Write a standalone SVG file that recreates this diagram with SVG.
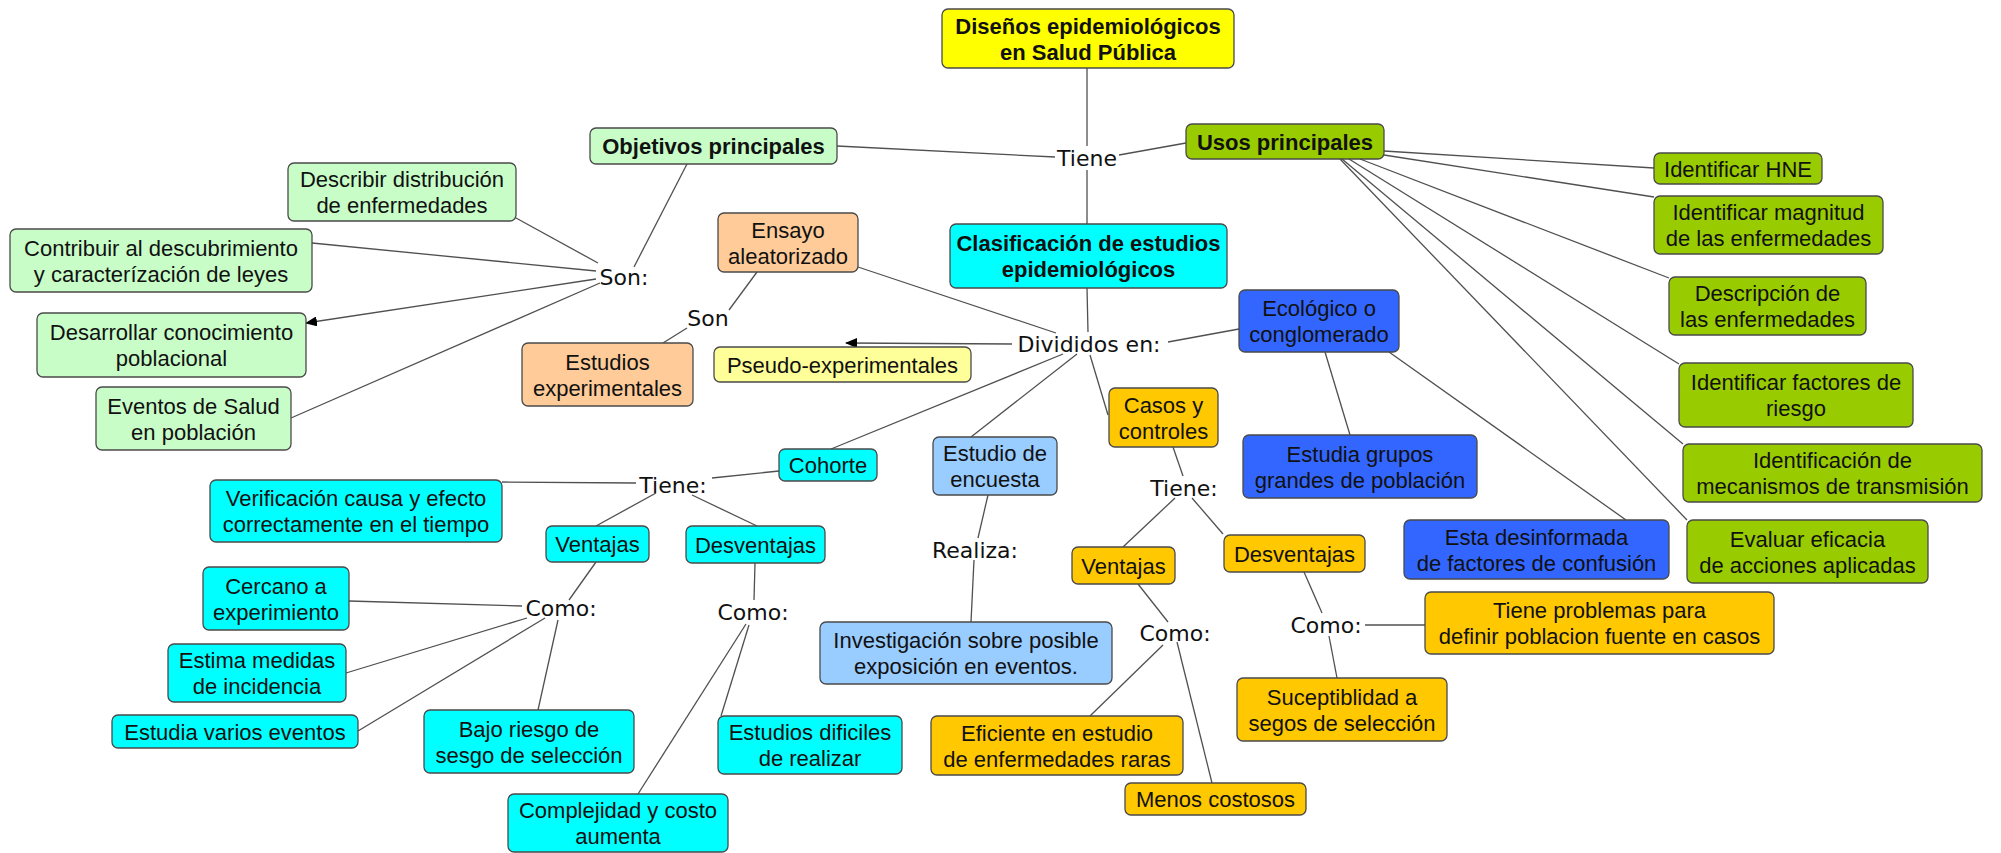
<svg xmlns="http://www.w3.org/2000/svg" width="2001" height="853" viewBox="0 0 2001 853">
<defs>
<style>
rect{stroke:#4a4a4a;stroke-width:1.3;rx:6;ry:6}
.yel{fill:#FFFF00}.lg{fill:#C8FDC8}.yg{fill:#99CC00}.cy{fill:#00FFFF}.pe{fill:#FFCC99}
.ly{fill:#FFFF99}.bl{fill:#3366FF}.lb{fill:#99CCFF}.or{fill:#FFC800}
text{font-family:"Liberation Sans",Arial,sans-serif;font-size:22px;text-anchor:middle;fill:#111}
text.b{font-weight:bold}
text.l{font-family:"DejaVu Sans",Verdana,sans-serif;font-size:22px}
#connectors line{stroke:#505050;stroke-width:1.3;fill:none}
</style>
<marker id="arr" markerWidth="12" markerHeight="10" refX="11" refY="5" orient="auto" markerUnits="userSpaceOnUse">
<path d="M0,0 L12,5 L0,10 z" fill="#000"/>
</marker>
</defs>
<rect x="0" y="0" width="2001" height="853" style="fill:#fff;stroke:none"/>
<g id="connectors">
<line x1="1087" y1="68" x2="1087" y2="146"/>
<line x1="1087" y1="170" x2="1087" y2="224"/>
<line x1="837" y1="146" x2="1055" y2="157"/>
<line x1="1119" y1="155" x2="1186" y2="143"/>
<line x1="687" y1="164" x2="634" y2="267"/>
<line x1="516" y1="218" x2="598" y2="263"/>
<line x1="312" y1="243" x2="596" y2="271"/>
<line x1="596" y1="279" x2="306" y2="323" marker-end="url(#arr)"/>
<line x1="600" y1="283" x2="291" y2="418"/>
<line x1="757" y1="272" x2="729" y2="310"/>
<line x1="687" y1="328" x2="663" y2="343"/>
<line x1="858" y1="267" x2="1056" y2="333"/>
<line x1="1087" y1="288" x2="1088" y2="332"/>
<line x1="1012" y1="344" x2="846" y2="343" marker-end="url(#arr)"/>
<line x1="1168" y1="342" x2="1239" y2="329"/>
<line x1="1090" y1="355" x2="1108" y2="415"/>
<line x1="1063" y1="354" x2="831" y2="449"/>
<line x1="1077" y1="354" x2="971" y2="437"/>
<line x1="1325" y1="352" x2="1350" y2="435"/>
<line x1="1389" y1="352" x2="1626" y2="520"/>
<line x1="1384" y1="151" x2="1654" y2="168"/>
<line x1="1384" y1="155" x2="1654" y2="197"/>
<line x1="1360" y1="159" x2="1669" y2="278"/>
<line x1="1349" y1="159" x2="1679" y2="364"/>
<line x1="1342" y1="159" x2="1683" y2="444"/>
<line x1="1340" y1="159" x2="1687" y2="520"/>
<line x1="779" y1="471" x2="712" y2="478"/>
<line x1="636" y1="483" x2="502" y2="482"/>
<line x1="656" y1="493" x2="596" y2="526"/>
<line x1="692" y1="495" x2="757" y2="526"/>
<line x1="596" y1="562" x2="569" y2="600"/>
<line x1="349" y1="601" x2="522" y2="606"/>
<line x1="346" y1="673" x2="527" y2="618"/>
<line x1="358" y1="731" x2="545" y2="618"/>
<line x1="558" y1="620" x2="538" y2="710"/>
<line x1="755" y1="563" x2="754" y2="600"/>
<line x1="749" y1="625" x2="721" y2="716"/>
<line x1="746" y1="624" x2="638" y2="794"/>
<line x1="988" y1="495" x2="978" y2="538"/>
<line x1="974" y1="560" x2="971" y2="622"/>
<line x1="1173" y1="447" x2="1183" y2="476"/>
<line x1="1175" y1="498" x2="1123" y2="547"/>
<line x1="1192" y1="498" x2="1223" y2="534"/>
<line x1="1138" y1="584" x2="1168" y2="622"/>
<line x1="1163" y1="645" x2="1090" y2="716"/>
<line x1="1177" y1="642" x2="1212" y2="783"/>
<line x1="1304" y1="572" x2="1322" y2="613"/>
<line x1="1329" y1="636" x2="1337" y2="678"/>
<line x1="1365" y1="625" x2="1425" y2="625"/>
</g>
<g id="labels">
<text class="l" x="1087" y="166">Tiene</text>
<text class="l" x="624" y="285">Son:</text>
<text class="l" x="708" y="326">Son</text>
<text class="l" x="1089" y="352">Divididos en:</text>
<text class="l" x="673" y="493">Tiene:</text>
<text class="l" x="561" y="616">Como:</text>
<text class="l" x="753" y="620">Como:</text>
<text class="l" x="975" y="558">Realiza:</text>
<text class="l" x="1184" y="496">Tiene:</text>
<text class="l" x="1175" y="641">Como:</text>
<text class="l" x="1326" y="633">Como:</text>
</g>
<g id="n_disenos"><rect class="yel" x="942" y="9" width="292" height="59"/><text class="b" x="1088" y="33.5">Diseños epidemiológicos</text><text class="b" x="1088" y="59.5">en Salud Pública</text></g>
<g id="n_objetivos"><rect class="lg" x="590" y="128" width="247" height="36"/><text class="b" x="713.5" y="154">Objetivos principales</text></g>
<g id="n_usos"><rect class="yg" x="1186" y="124" width="198" height="35"/><text class="b" x="1285" y="149.5">Usos principales</text></g>
<g id="n_clasificacion"><rect class="cy" x="950" y="224" width="277" height="64"/><text class="b" x="1088.5" y="251">Clasificación de estudios</text><text class="b" x="1088.5" y="277">epidemiológicos</text></g>
<g id="n_describir"><rect class="lg" x="288" y="163" width="228" height="58"/><text x="402" y="187">Describir distribución</text><text x="402" y="213">de enfermedades</text></g>
<g id="n_contribuir"><rect class="lg" x="10" y="229" width="302" height="63"/><text x="161" y="255.5">Contribuir al descubrimiento</text><text x="161" y="281.5">y caracterízación de leyes</text></g>
<g id="n_desarrollar"><rect class="lg" x="37" y="313" width="269" height="64"/><text x="171.5" y="340">Desarrollar conocimiento</text><text x="171.5" y="366">poblacional</text></g>
<g id="n_eventos"><rect class="lg" x="96" y="387" width="195" height="63"/><text x="193.5" y="413.5">Eventos de Salud</text><text x="193.5" y="439.5">en población</text></g>
<g id="n_ensayo"><rect class="pe" x="718" y="213" width="140" height="59"/><text x="788" y="237.5">Ensayo</text><text x="788" y="263.5">aleatorizado</text></g>
<g id="n_experimentales"><rect class="pe" x="522" y="343" width="171" height="63"/><text x="607.5" y="369.5">Estudios</text><text x="607.5" y="395.5">experimentales</text></g>
<g id="n_pseudo"><rect class="ly" x="714" y="347" width="257" height="35"/><text x="842.5" y="372.5">Pseudo-experimentales</text></g>
<g id="n_ecologico"><rect class="bl" x="1239" y="290" width="160" height="62"/><text x="1319" y="316">Ecológico o</text><text x="1319" y="342">conglomerado</text></g>
<g id="n_estudia_grupos"><rect class="bl" x="1243" y="435" width="234" height="63"/><text x="1360" y="461.5">Estudia grupos</text><text x="1360" y="487.5">grandes de población</text></g>
<g id="n_desinformada"><rect class="bl" x="1404" y="520" width="265" height="59"/><text x="1536.5" y="544.5">Esta desinformada</text><text x="1536.5" y="570.5">de factores de confusión</text></g>
<g id="n_casos"><rect class="or" x="1109" y="388" width="109" height="59"/><text x="1163.5" y="412.5">Casos y</text><text x="1163.5" y="438.5">controles</text></g>
<g id="n_ventajas_casos"><rect class="or" x="1072" y="547" width="103" height="37"/><text x="1123.5" y="573.5">Ventajas</text></g>
<g id="n_desventajas_casos"><rect class="or" x="1224" y="535" width="141" height="37"/><text x="1294.5" y="561.5">Desventajas</text></g>
<g id="n_problemas"><rect class="or" x="1425" y="592" width="349" height="62"/><text x="1599.5" y="618">Tiene problemas para</text><text x="1599.5" y="644">definir poblacion fuente en casos</text></g>
<g id="n_suceptiblidad"><rect class="or" x="1237" y="678" width="210" height="63"/><text x="1342" y="704.5">Suceptiblidad a</text><text x="1342" y="730.5">segos de selección</text></g>
<g id="n_eficiente"><rect class="or" x="931" y="716" width="252" height="59"/><text x="1057" y="740.5">Eficiente en estudio</text><text x="1057" y="766.5">de enfermedades raras</text></g>
<g id="n_menos"><rect class="or" x="1125" y="783" width="181" height="32"/><text x="1215.5" y="807">Menos costosos</text></g>
<g id="n_encuesta"><rect class="lb" x="933" y="437" width="124" height="58"/><text x="995" y="461">Estudio de</text><text x="995" y="487">encuesta</text></g>
<g id="n_investigacion"><rect class="lb" x="820" y="622" width="292" height="62"/><text x="966" y="648">Investigación sobre posible</text><text x="966" y="674">exposición en eventos.</text></g>
<g id="n_cohorte"><rect class="cy" x="779" y="449" width="98" height="32"/><text x="828" y="473">Cohorte</text></g>
<g id="n_verificacion"><rect class="cy" x="210" y="480" width="292" height="62"/><text x="356" y="506">Verificación causa y efecto</text><text x="356" y="532">correctamente en el tiempo</text></g>
<g id="n_ventajas_cohorte"><rect class="cy" x="546" y="526" width="103" height="36"/><text x="597.5" y="552">Ventajas</text></g>
<g id="n_desventajas_cohorte"><rect class="cy" x="686" y="526" width="139" height="37"/><text x="755.5" y="552.5">Desventajas</text></g>
<g id="n_cercano"><rect class="cy" x="203" y="567" width="146" height="63"/><text x="276" y="593.5">Cercano a</text><text x="276" y="619.5">experimiento</text></g>
<g id="n_estima"><rect class="cy" x="168" y="644" width="178" height="58"/><text x="257" y="668">Estima medidas</text><text x="257" y="694">de incidencia</text></g>
<g id="n_estudia_varios"><rect class="cy" x="112" y="715" width="246" height="33"/><text x="235" y="739.5">Estudia varios eventos</text></g>
<g id="n_bajo"><rect class="cy" x="424" y="710" width="210" height="63"/><text x="529" y="736.5">Bajo riesgo de</text><text x="529" y="762.5">sesgo de selección</text></g>
<g id="n_complejidad"><rect class="cy" x="508" y="794" width="220" height="58"/><text x="618" y="818">Complejidad y costo</text><text x="618" y="844">aumenta</text></g>
<g id="n_dificiles"><rect class="cy" x="718" y="716" width="184" height="58"/><text x="810" y="740">Estudios dificiles</text><text x="810" y="766">de realizar</text></g>
<g id="n_hne"><rect class="yg" x="1654" y="153" width="168" height="31"/><text x="1738" y="176.5">Identificar HNE</text></g>
<g id="n_magnitud"><rect class="yg" x="1654" y="196" width="229" height="58"/><text x="1768.5" y="220">Identificar magnitud</text><text x="1768.5" y="246">de las enfermedades</text></g>
<g id="n_descripcion"><rect class="yg" x="1669" y="277" width="197" height="58"/><text x="1767.5" y="301">Descripción de</text><text x="1767.5" y="327">las enfermedades</text></g>
<g id="n_factores"><rect class="yg" x="1679" y="363" width="234" height="64"/><text x="1796" y="390">Identificar factores de</text><text x="1796" y="416">riesgo</text></g>
<g id="n_mecanismos"><rect class="yg" x="1683" y="444" width="299" height="58"/><text x="1832.5" y="468">Identificación de</text><text x="1832.5" y="494">mecanismos de transmisión</text></g>
<g id="n_evaluar"><rect class="yg" x="1687" y="520" width="241" height="63"/><text x="1807.5" y="546.5">Evaluar eficacia</text><text x="1807.5" y="572.5">de acciones aplicadas</text></g>
</svg>
